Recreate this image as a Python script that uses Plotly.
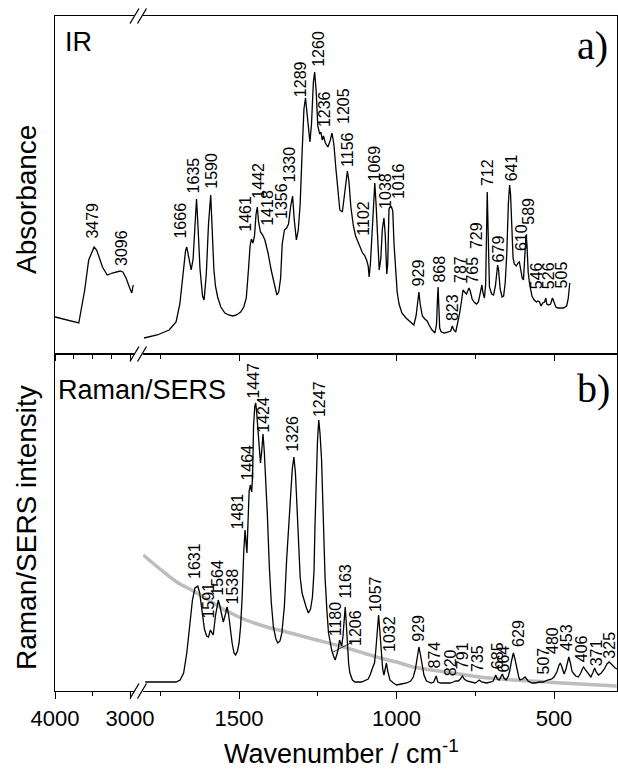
import plotly.graph_objects as go

# ---------------- data (arbitrary intensity units) ----------------
# IR, high-wavenumber segment
ir_hi_w = [4000, 3683, 3604, 3551, 3479, 3445, 3367, 3304, 3236, 3131, 3096, 3053, 3009, 2977, 2957]
ir_hi_a = [37, 31, 64, 94, 107, 104, 87, 79, 81, 83, 82, 76, 67, 61, 69]

# IR, fingerprint segment
ir_w = [1802, 1760, 1722, 1700, 1688, 1678, 1670, 1666, 1660, 1652, 1646, 1640, 1635, 1630, 1624,
        1616, 1611, 1604, 1597, 1590, 1585, 1580, 1575, 1568, 1558, 1545, 1533, 1520, 1508, 1495,
        1485, 1477, 1470, 1465, 1461, 1456, 1451, 1446, 1442, 1438, 1432, 1425, 1418, 1408, 1398,
        1389, 1380, 1374, 1368, 1363, 1358, 1356, 1349, 1343, 1336, 1330, 1325, 1318, 1312, 1306,
        1300, 1294, 1289, 1284, 1279, 1275, 1270, 1264, 1260, 1255, 1250, 1244, 1240, 1236, 1232,
        1226, 1218, 1211, 1205, 1199, 1193, 1186, 1180, 1172, 1165, 1160, 1156, 1151, 1145, 1137,
        1130, 1117, 1108, 1102, 1095, 1090, 1087, 1083, 1078, 1072, 1069, 1065, 1060, 1055, 1050,
        1045, 1040, 1036, 1031, 1028, 1024, 1020, 1016, 1012, 1008, 1004, 998, 992, 983, 970,
        955, 945, 938, 933, 929, 925, 918, 910, 903, 895, 887, 878, 873, 870, 868,
        866, 863, 858, 848, 835, 828, 823, 818, 812, 806, 800, 794, 789, 784, 778,
        774, 770, 766, 760, 754, 746, 740, 735, 731, 729, 726, 721, 717, 714, 712,
        709, 705, 698, 692, 686, 681, 679, 676, 671, 665, 660, 655, 650, 645, 641,
        638, 634, 630, 626, 620, 614, 610, 606, 601, 597, 593, 589, 586, 582, 578,
        570, 563, 556, 551, 546, 541, 536, 530, 526, 523, 517, 511, 505, 500, 494,
        488, 480, 470, 460, 455, 450]
ir_a = [16, 19, 24, 32, 50, 80, 103, 107, 98, 84, 95, 135, 155, 125, 85,
        58, 54, 80, 130, 159, 120, 85, 68, 57, 47, 41, 39, 38, 39, 42,
        47, 56, 85, 108, 115, 111, 118, 140, 147, 132, 122, 119, 114, 101, 84,
        71, 59, 62, 76, 110, 122, 124, 126, 130, 148, 158, 135, 114, 124, 150,
        200, 245, 256, 240, 218, 212, 230, 272, 282, 262, 228, 220, 222, 214, 218,
        211, 207, 213, 221, 210, 187, 163, 144, 142, 160, 178, 183, 172, 147, 128,
        118, 108, 101, 99, 94, 88, 77, 90, 120, 160, 171, 150, 110, 84, 95,
        125, 136, 120, 80, 90, 145, 147, 147, 143, 110, 87, 62, 50, 41, 36,
        32, 29, 38, 52, 62, 50, 38, 35, 33, 28, 24, 21, 30, 55, 67,
        50, 26, 22, 21, 22, 23, 28, 24, 22, 30, 40, 52, 64, 62, 60,
        63, 66, 63, 55, 52, 50, 52, 60, 66, 69, 62, 56, 70, 130, 162,
        120, 67, 60, 59, 68, 84, 89, 84, 65, 57, 58, 71, 100, 150, 169,
        160, 120, 96, 90, 88, 91, 92, 85, 76, 74, 95, 119, 110, 82, 71,
        58, 54, 52, 53, 52, 48, 51, 52, 56, 50, 49, 50, 56, 52, 47,
        46, 46, 46, 48, 55, 71]

# Raman / SERS spectrum
ram_w = [1798, 1760, 1720, 1700, 1687, 1676, 1666, 1658, 1648, 1640, 1631, 1625, 1618, 1610, 1603,
         1597, 1591, 1586, 1582, 1575, 1566, 1561, 1557, 1550, 1544, 1538, 1533, 1529, 1522, 1516,
         1511, 1505, 1500, 1495, 1490, 1485, 1481, 1477, 1475, 1472, 1468, 1464, 1460, 1457, 1454,
         1450, 1447, 1444, 1440, 1436, 1432, 1428, 1424, 1420, 1415, 1410, 1404, 1398, 1391, 1383,
         1377, 1370, 1364, 1356, 1349, 1342, 1336, 1331, 1326, 1321, 1317, 1311, 1306, 1300, 1294,
         1287, 1280, 1273, 1267, 1262, 1259, 1255, 1251, 1247, 1243, 1238, 1233, 1227, 1221, 1216,
         1210, 1206, 1200, 1195, 1190, 1185, 1181, 1177, 1174, 1170, 1166, 1163, 1160, 1156, 1152,
         1148, 1140, 1132, 1111, 1090, 1084, 1075, 1070, 1066, 1062, 1057, 1053, 1049, 1044, 1040,
         1036, 1032, 1028, 1021, 1010, 1000, 985, 968, 955, 947, 940, 935, 929, 925, 919,
         913, 905, 890, 882, 874, 869, 860, 840, 830, 820, 812, 804, 797, 791, 785,
         777, 765, 751, 745, 737, 730, 714, 700, 693, 685, 680, 674, 668, 664, 659,
         652, 645, 640, 635, 629, 624, 618, 612, 608, 600, 592, 586, 582, 570, 560,
         545, 534, 520, 507, 500, 491, 484, 480, 476, 471, 468, 462, 457, 453, 448,
         443, 439, 431, 423, 415, 410, 406, 400, 391, 383, 377, 371, 366, 359, 350,
         340, 332, 325, 318, 310, 306, 300]
ram_i = [9, 9, 8.5, 9, 11, 18, 38, 60, 91, 103, 105, 98, 78, 62, 55,
         54, 61, 58, 56, 75, 91, 85, 78, 69, 76, 84, 76, 64, 48, 38,
         36, 40, 48, 65, 95, 140, 161, 145, 138, 165, 200, 206, 199, 215, 265,
         285, 288, 278, 258, 240, 228, 240, 257, 240, 210, 175, 125, 90, 64, 52,
         48, 50, 58, 85, 131, 170, 198, 222, 234, 218, 191, 150, 114, 98, 91,
         84, 78, 82, 94, 120, 164, 215, 250, 271, 258, 231, 180, 114, 80, 58,
         48, 41, 35, 31, 36, 42, 51, 46, 45, 55, 75, 84, 70, 44, 27,
         18, 11, 9, 9, 12, 16, 24, 28, 40, 60, 76, 60, 38, 22, 16,
         22, 28, 20, 11, 8, 6, 7, 8, 10, 14, 22, 32, 44, 38, 28,
         16, 10, 8, 9, 15, 9, 8, 8, 8, 9, 10, 10, 12, 15, 12,
         10, 9, 8, 9, 11, 9, 8, 9, 10, 16, 12, 11, 14, 17, 13,
         11, 15, 21, 30, 38, 32, 21, 14, 11, 12, 14, 11, 10, 8, 8,
         9, 9, 11, 12, 14, 19, 26, 28, 25, 18, 17, 22, 30, 34, 28,
         20, 18, 15, 14, 18, 22, 24, 21, 17, 14, 18, 23, 19, 16, 18,
         22, 27, 29, 27, 24, 23, 22]

# reference (grey) spectrum
ref_w = [1804, 1751, 1698, 1645, 1592, 1539, 1486, 1412, 1349, 1253, 1158, 1095, 1052, 1000,
         947, 841, 735, 629, 523, 417, 301]
ref_i = [136, 122, 109, 100, 90, 80, 72, 64, 59, 51, 43, 37, 33, 29,
         24, 19, 14, 11, 9, 7, 5]

# peak labels
ir_hi_labels = ["3479", "3096"]
ir_hi_label_w = [3512, 3120]
ir_hi_label_h = [114, 87]

ir_labels = ["1666", "1635", "1590", "1461", "1442", "1418", "1356", "1330", "1289", "1260",
             "1236", "1205", "1156", "1102", "1069", "1038", "1016", "929", "868", "823",
             "787", "765", "729", "712", "679", "641", "610", "589", "546", "526", "505"]
ir_label_w = [1689, 1645, 1590, 1482, 1441, 1412, 1367, 1340, 1306, 1250,
              1230, 1170, 1156, 1106, 1070, 1037, 995, 929, 865, 822,
              797, 760, 746, 711, 675, 634, 603, 582, 555, 517, 475]
ir_label_h = [114, 160, 164, 121, 154, 127, 134, 171, 256, 286,
              226, 229, 186, 117, 172, 144, 154, 67, 70, 32,
              70, 69, 104, 167, 91, 172, 102, 128, 64, 64, 65]

ram_labels = ["1631", "1591", "1564", "1538", "1481", "1464", "1447", "1424", "1326", "1247",
              "1180", "1163", "1206", "1057", "1032", "929", "874", "820", "791", "735",
              "685", "664", "629", "507", "480", "453", "406", "371", "325"]
ram_label_w = [1643, 1600, 1571, 1521, 1505, 1476, 1457, 1425, 1333, 1246,
               1193, 1163, 1132, 1068, 1024, 931, 881, 828, 790, 743,
               679, 659, 613, 532, 505, 460, 412, 364, 325]
ram_label_h = [111, 71, 94, 86, 161, 209, 291, 257, 238, 273,
               54, 91, 44, 78, 38, 48, 21, 14, 21, 18,
               21, 18, 43, 16, 36, 39, 28, 24, 31]

# axes
hi_range = [4000, 2947]
lo_range = [1805, 300]
a_range = [0, 338]
b_range = [0, 337]
hi_ticks = [4000, 3000]
lo_ticks = [1500, 1000, 500]

# ---------------- layout geometry ----------------
W, H = 618, 769
ML, MR, MT, MB = 55, 1, 16, 78
PW, PH = W - ML - MR, H - MT - MB


def px_x(px):
    return (px - ML) / PW


def px_y(py):
    return (H - MB - py) / PH


xL = [0, px_x(134)]
xR = [px_x(143), 1]
ya = [px_y(354), 1]
yb = [0, px_y(354)]

FONT = "Liberation Sans, Arial, sans-serif"
LW = 1.3

fig = go.Figure()
fig.add_trace(go.Scatter(x=ir_hi_w, y=ir_hi_a, xaxis="x", yaxis="y", mode="lines",
                         line=dict(color="black", width=LW), showlegend=False))
fig.add_trace(go.Scatter(x=ir_w, y=ir_a, xaxis="x2", yaxis="y2", mode="lines",
                         line=dict(color="black", width=LW), showlegend=False))
# empty-valued trace so that the lower left subplot (4000-3000) is a real subplot
fig.add_trace(go.Scatter(x=hi_range, y=[None, None], xaxis="x3", yaxis="y3", mode="lines",
                         line=dict(color="black", width=LW), showlegend=False, hoverinfo="skip"))
fig.add_trace(go.Scatter(x=ref_w, y=ref_i, xaxis="x4", yaxis="y4", mode="lines",
                         line=dict(color="#bdbdbd", width=3.5, shape="spline"), showlegend=False))
fig.add_trace(go.Scatter(x=ram_w, y=ram_i, xaxis="x4", yaxis="y4", mode="lines",
                         line=dict(color="black", width=LW), showlegend=False))

common_x = dict(showline=True, linecolor="black", linewidth=LW, mirror=True, showgrid=False,
                zeroline=False, ticks="outside", tickcolor="black", tickwidth=LW,
                tickfont=dict(family=FONT, size=22, color="black"), automargin=False)
common_y = dict(showline=True, linecolor="black", linewidth=LW, showgrid=False, zeroline=False,
                ticks="", showticklabels=False, fixedrange=True, automargin=False)

fig.update_layout(
    width=W, height=H, margin=dict(l=ML, r=MR, t=MT, b=MB, autoexpand=False),
    paper_bgcolor="white", plot_bgcolor="white", showlegend=False,
    xaxis=dict(common_x, domain=xL, anchor="y", range=hi_range, tickvals=hi_ticks,
               showticklabels=False, ticklen=6,
               minor=dict(tickvals=[3750, 3500, 3250], ticklen=4, ticks="outside",
                          tickcolor="black", tickwidth=LW)),
    xaxis2=dict(common_x, domain=xR, anchor="y2", range=lo_range, tickvals=lo_ticks,
                showticklabels=False, ticklen=6,
                minor=dict(tickvals=[1750, 1250, 750], ticklen=4, ticks="outside",
                           tickcolor="black", tickwidth=LW)),
    xaxis3=dict(common_x, domain=xL, anchor="y3", range=hi_range, tickvals=hi_ticks,
                ticktext=[str(v) for v in hi_ticks], ticklen=7,
                minor=dict(tickvals=[3500], ticklen=4, ticks="outside",
                           tickcolor="black", tickwidth=LW)),
    xaxis4=dict(common_x, domain=xR, anchor="y4", range=lo_range, tickvals=lo_ticks,
                ticktext=[str(v) for v in lo_ticks], ticklen=7,
                minor=dict(tickvals=[1750, 1250, 750], ticklen=4, ticks="outside",
                           tickcolor="black", tickwidth=LW)),
    yaxis=dict(common_y, domain=ya, anchor="x", range=a_range),
    yaxis2=dict(common_y, domain=ya, anchor="x2", range=a_range, side="right"),
    yaxis3=dict(common_y, domain=yb, anchor="x3", range=b_range),
    yaxis4=dict(common_y, domain=yb, anchor="x4", range=b_range, side="right"),
)

ann = []
lab_font = dict(family=FONT, size=16, color="black")
for t, w, h in zip(ir_hi_labels, ir_hi_label_w, ir_hi_label_h):
    ann.append(dict(x=w, y=h, xref="x", yref="y", text=t, textangle=-90, showarrow=False,
                    xanchor="center", yanchor="bottom", font=lab_font, borderpad=0))
for t, w, h in zip(ir_labels, ir_label_w, ir_label_h):
    ann.append(dict(x=w, y=h, xref="x2", yref="y2", text=t, textangle=-90, showarrow=False,
                    xanchor="center", yanchor="bottom", font=lab_font, borderpad=0))
for t, w, h in zip(ram_labels, ram_label_w, ram_label_h):
    ann.append(dict(x=w, y=h, xref="x4", yref="y4", text=t, textangle=-90, showarrow=False,
                    xanchor="center", yanchor="bottom", font=lab_font, borderpad=0))

big = dict(family=FONT, size=27, color="black")
serif = dict(family="Liberation Serif, Times New Roman, serif", size=40, color="black")
ann += [
    dict(x=px_x(63), y=px_y(41.5), xref="paper", yref="paper", text="IR", showarrow=False,
         xanchor="left", yanchor="middle", font=big),
    dict(x=px_x(56), y=px_y(390), xref="paper", yref="paper", text="Raman/SERS", showarrow=False,
         xanchor="left", yanchor="middle", font=big),
    dict(x=px_x(610), y=px_y(46), xref="paper", yref="paper", text="a)", showarrow=False,
         xanchor="right", yanchor="middle", font=serif),
    dict(x=px_x(612), y=px_y(388), xref="paper", yref="paper", text="b)", showarrow=False,
         xanchor="right", yanchor="middle", font=serif),
    dict(x=px_x(26), y=px_y(200), xref="paper", yref="paper", text="Absorbance", showarrow=False,
         textangle=-90, xanchor="center", yanchor="middle", font=dict(big, size=28)),
    dict(x=px_x(26), y=px_y(528), xref="paper", yref="paper", text="Raman/SERS intensity",
         showarrow=False, textangle=-90, xanchor="center", yanchor="middle",
         font=dict(big, size=28)),
    dict(x=px_x(341), y=px_y(752), xref="paper", yref="paper",
         text="Wavenumber / cm<sup>-1</sup>", showarrow=False, xanchor="center",
         yanchor="middle", font=dict(big, size=27)),
]
fig.update_layout(annotations=ann)

# axis-break marks and the 1206 leader line
shapes = []
for py in (16, 354, 691):
    for x0 in (130, 137.5):
        shapes.append(dict(type="line", xref="paper", yref="paper",
                           x0=px_x(x0), y0=px_y(py + 7.5), x1=px_x(x0 + 9), y1=px_y(py - 7.5),
                           line=dict(color="black", width=LW), layer="above"))
shapes.append(dict(type="line", xref="x4", yref="y4", x0=1201, y0=39, x1=1140, y1=49,
                   line=dict(color="black", width=0.8)))
fig.update_layout(shapes=shapes)

fig.write_html("out.html")
